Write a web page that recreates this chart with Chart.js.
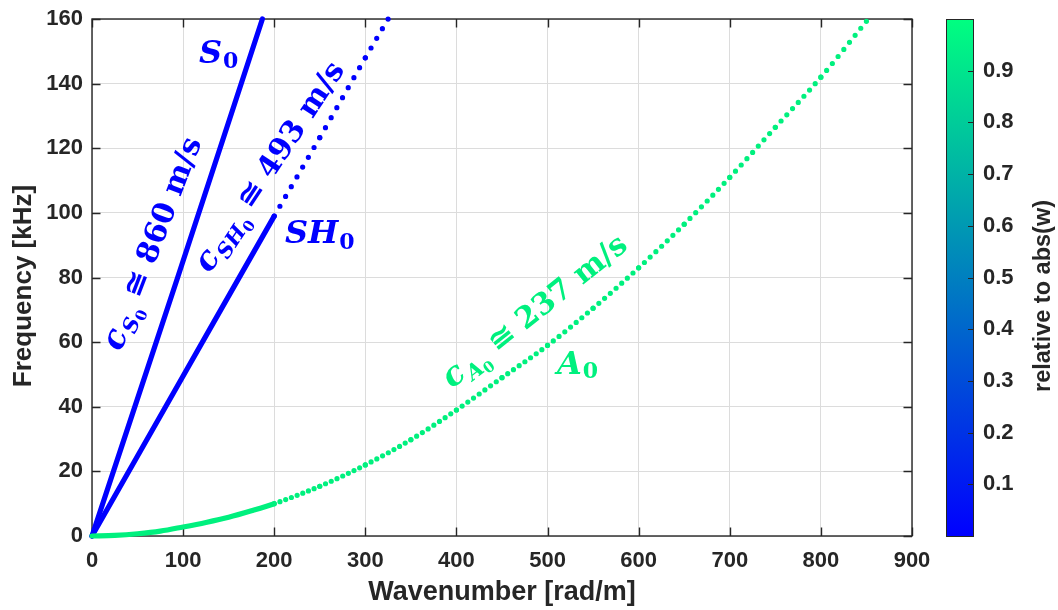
<!DOCTYPE html>
<html>
<head>
<meta charset="utf-8">
<script src="https://cdn.jsdelivr.net/npm/chart.js@4.4.0/dist/chart.umd.min.js"></script>
<style>
  body { margin: 0; background: #fff; }
  canvas { display: block; }
</style>
</head>
<body>
<canvas id="grafico" width="1058" height="610"></canvas>
<script>
// curvas de dispersion: numero de onda [rad/m] / frecuencia [kHz]
var kS0 = [0, 94, 187];
var fS0 = [0, 80, 160];

var kSH0 = [0, 100, 200, 250, 300, 325];
var fSH0 = [0, 49.5, 99, 123.3, 148, 160];

var kA0 = [0, 25, 50, 75, 100, 125, 150, 175, 200, 250, 300, 350, 400, 450, 500, 550, 600, 650, 700, 750, 800, 852];
var fA0 = [0, 0.2, 0.7, 1.5, 2.8, 4.2, 5.8, 7.8, 10, 15.4, 22, 29.8, 39, 49, 59, 70.5, 83, 96.5, 111, 126.5, 142, 160];

var xTicks = [0, 100, 200, 300, 400, 500, 600, 700, 800, 900];
var yTicks = [0, 20, 40, 60, 80, 100, 120, 140, 160];
var cbTicks = [0.1, 0.2, 0.3, 0.4, 0.5, 0.6, 0.7, 0.8, 0.9];

// hasta 200 rad/m el muestreo es denso (linea llena), despues un punto cada 6.25 rad/m
var kDenso = 200;
var pasoPunto = 6.25;

var azul = '#0000ff';
var verde = '#00f07e';
var gris = '#262626';
var sans = '"Liberation Sans", Arial, sans-serif';
var serif = '"DejaVu Serif", serif';

function puntos(ks, fs) {
    return ks.map(function (k, i) { return { x: k, y: fs[i] }; });
}

// estilo de cada tramo: lleno en la zona densa, punteado despues
function tramoDash(ks) {
    return function (ctx) {
        var i = ctx.p0DataIndex;
        if (ks[i] < kDenso) return [];
        var dx = ctx.p1.x - ctx.p0.x, dy = ctx.p1.y - ctx.p0.y;
        var largo = Math.sqrt(dx * dx + dy * dy);
        var n = (ks[ctx.p1DataIndex] - ks[i]) / pasoPunto;
        return [0, largo / n * 0.999];
    };
}

function serie(ks, fs, color) {
    return {
        data: puntos(ks, fs),
        showLine: true,
        borderColor: color,
        backgroundColor: color,
        borderWidth: 5.2,
        borderCapStyle: 'round',
        borderJoinStyle: 'round',
        pointRadius: 0,
        cubicInterpolationMode: 'monotone',
        clip: false,
        segment: {
            borderDash: tramoDash(ks)
        }
    };
}

function textoRico(ctx, x, y, ang, partes, color) {
    ctx.save();
    ctx.translate(x, y);
    ctx.rotate(ang * Math.PI / 180);
    ctx.fillStyle = color;
    ctx.textAlign = 'left';
    ctx.textBaseline = 'alphabetic';
    var cx = 0;
    partes.forEach(function (p) {
        ctx.font = p.f;
        ctx.fillText(p.t, cx, p.dy || 0);
        cx += ctx.measureText(p.t).width + (p.sp || 0);
    });
    ctx.restore();
}

var fIt = 'italic bold 33px ' + serif;
var fNum = 'bold 30px ' + serif;
var fSub = 'italic bold 21px ' + serif;
var fSubN = 'bold 15px ' + serif;
var fLab = 'italic bold 32px ' + serif;
var fLabN = 'bold 22px ' + serif;

function velocidad(sub, valor) {
    return [
        { t: 'c', f: fIt, sp: 1 },
        { t: sub, f: fSub, dy: 7 },
        { t: '0', f: fSubN, dy: 11 },
        { t: ' \u2245 ', f: fNum },
        { t: valor, f: fNum },
        { t: ' m/s', f: fNum }
    ];
}

function textoVertical(ctx, txt, x, y, fuente) {
    ctx.save();
    ctx.translate(x, y);
    ctx.rotate(-Math.PI / 2);
    ctx.fillStyle = gris;
    ctx.font = fuente;
    ctx.textAlign = 'center';
    ctx.textBaseline = 'middle';
    ctx.fillText(txt, 0, 0);
    ctx.restore();
}

var anotaciones = {
    id: 'anotaciones',
    beforeDatasetsDraw: function (chart) {
        var ctx = chart.ctx, a = chart.chartArea;
        var sx = chart.scales.x, sy = chart.scales.y;
        var lt = 8.5;
        ctx.save();
        ctx.strokeStyle = gris;
        ctx.lineWidth = 1.4;
        ctx.beginPath();
        xTicks.forEach(function (v) {
            var px = Math.round(sx.getPixelForValue(v)) + 0.5;
            ctx.moveTo(px, a.bottom); ctx.lineTo(px, a.bottom - lt);
            ctx.moveTo(px, a.top); ctx.lineTo(px, a.top + lt);
        });
        yTicks.forEach(function (v) {
            var py = Math.round(sy.getPixelForValue(v)) + 0.5;
            ctx.moveTo(a.left, py); ctx.lineTo(a.left + lt, py);
            ctx.moveTo(a.right, py); ctx.lineTo(a.right - lt, py);
        });
        ctx.stroke();
        ctx.strokeRect(a.left, a.top, a.right - a.left, a.bottom - a.top);
        ctx.restore();
        textoVertical(ctx, 'Frequency [kHz]', 24, 286, 'bold 26px ' + sans);
    },
    afterDatasetsDraw: function (chart) {
        var ctx = chart.ctx;
        textoRico(ctx, 199, 63, 0, [{ t: 'S', f: fLab, sp: 1 }, { t: '0', f: fLabN, dy: 5 }], azul);
        textoRico(ctx, 285, 243, 0, [{ t: 'SH', f: fLab, sp: 1 }, { t: '0', f: fLabN, dy: 6 }], azul);
        textoRico(ctx, 557, 374, 0, [{ t: 'A', f: fLab, sp: 1 }, { t: '0', f: fLabN, dy: 4 }], verde);
        textoRico(ctx, 121, 352, -69, velocidad('S', '860'), azul);
        textoRico(ctx, 210, 274, -56.5, velocidad('SH', '493'), azul);
        textoRico(ctx, 452, 389, -38.5, velocidad('A', '237'), verde);
    },
    afterDraw: function (chart) {
        var ctx = chart.ctx, a = chart.chartArea;
        var cb = chart.scales.cb;
        var x0 = 946, x1 = 973;
        ctx.save();
        var grad = ctx.createLinearGradient(0, a.bottom, 0, a.top);
        grad.addColorStop(0, '#0000ff');
        grad.addColorStop(1, '#00ff80');
        ctx.fillStyle = grad;
        ctx.fillRect(x0, a.top, x1 - x0, a.bottom - a.top);
        ctx.strokeStyle = gris;
        ctx.lineWidth = 1;
        ctx.strokeRect(x0 + 0.5, a.top + 0.5, x1 - x0, a.bottom - a.top);
        ctx.beginPath();
        cbTicks.forEach(function (v) {
            var py = Math.round(cb.getPixelForValue(v)) + 0.5;
            ctx.moveTo(x1, py); ctx.lineTo(x1 - 5, py);
        });
        ctx.stroke();
        ctx.restore();
        textoVertical(ctx, 'relative to abs(w)', 1044, 296, 'bold 23.5px ' + sans);
    }
};

function fijarTicks(lista) {
    return function (scale) {
        scale.ticks = lista.map(function (v) { return { value: v }; });
    };
}

// el ancho/alto de cada eje se fija a mano para que el area del grafico quede como en la figura
function ajustar(dim, valor) {
    return function (s) {
        s[dim] = valor;
        s.paddingTop = 0;
        s.paddingBottom = 0;
        s.paddingLeft = 0;
        s.paddingRight = 0;
    };
}

var fuenteTick = { family: sans, size: 22, weight: 'bold' };

new Chart(document.getElementById('grafico'), {
    type: 'scatter',
    data: {
        datasets: [
            serie(kA0, fA0, verde),
            serie(kSH0, fSH0, azul),
            serie(kS0, fS0, azul)
        ]
    },
    options: {
        responsive: false,
        animation: false,
        devicePixelRatio: 1,
        layout: { padding: { top: 19, left: 0, right: 0, bottom: 0 } },
        plugins: {
            legend: { display: false },
            tooltip: { enabled: false }
        },
        scales: {
            x: {
                type: 'linear',
                min: 0,
                max: 900,
                afterBuildTicks: fijarTicks(xTicks),
                afterFit: ajustar('height', 74),
                grid: { color: '#dcdcdc', lineWidth: 1, drawTicks: false },
                border: { display: false },
                ticks: { color: gris, font: fuenteTick, padding: 12, maxRotation: 0,
                         callback: function (v) { return String(v); } },
                title: { display: true, text: 'Wavenumber [rad/m]', color: gris,
                         font: { family: sans, size: 27, weight: 'bold' },
                         padding: { top: 0, bottom: 1 } }
            },
            y: {
                type: 'linear',
                min: 0,
                max: 160,
                afterBuildTicks: fijarTicks(yTicks),
                afterFit: ajustar('width', 92),
                grid: { color: '#dcdcdc', lineWidth: 1, drawTicks: false },
                border: { display: false },
                ticks: { color: gris, font: fuenteTick, padding: 9,
                         callback: function (v) { return String(v); } }
            },
            cb: {
                type: 'linear',
                position: 'right',
                min: 0,
                max: 1,
                afterBuildTicks: fijarTicks(cbTicks),
                afterFit: ajustar('width', 146),
                grid: { display: false, drawTicks: false },
                border: { display: false },
                ticks: { color: gris, font: fuenteTick, padding: 71,
                         callback: function (v) { return v.toFixed(1); } }
            }
        }
    },
    plugins: [anotaciones]
});
</script>
</body>
</html>
